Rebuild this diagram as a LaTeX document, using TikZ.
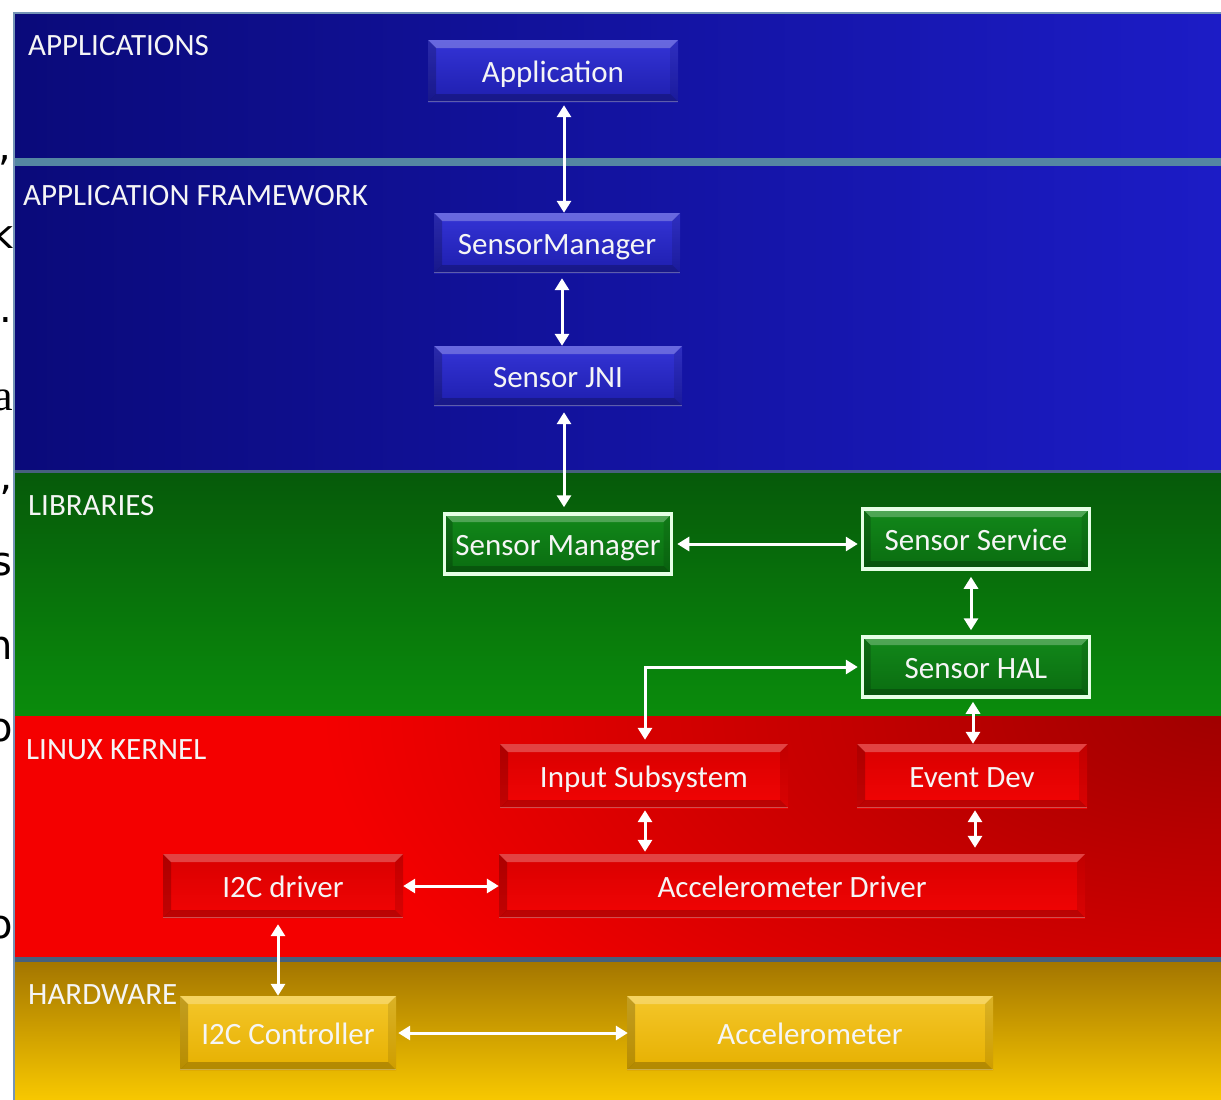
\documentclass[tikz,border=0pt]{standalone}
\usepackage{fontspec}
\setmainfont{Carlito}
\newfontfamily\fragsans{DejaVu Sans}
\newfontfamily\fragserif{Liberation Serif}
\usetikzlibrary{arrows.meta}

% layer colours
\definecolor{blueL}{HTML}{0A0A7A}
\definecolor{blueM}{HTML}{0F0F96}
\definecolor{blueR}{HTML}{1C1CC6}
\definecolor{greenT}{HTML}{065A0A}
\definecolor{greenB}{HTML}{0A8C0C}
\definecolor{redDark}{HTML}{A00000}
\definecolor{redBase}{HTML}{F40000}
\definecolor{goldT}{HTML}{A47600}
\definecolor{goldM}{HTML}{DCA800}
\definecolor{goldB}{HTML}{F8C800}
\definecolor{sepTeal}{HTML}{5486A2}
\definecolor{sepBlue}{HTML}{46607E}
\definecolor{frameEdge}{HTML}{7594B6}
% box colours
\definecolor{bbT}{HTML}{3434D6}
\definecolor{bbB}{HTML}{1E1EAE}
\definecolor{gbT}{HTML}{12881A}
\definecolor{gbB}{HTML}{0A6C10}
\definecolor{rbT}{HTML}{D80000}
\definecolor{rbB}{HTML}{F20404}
\definecolor{ybT}{HTML}{F4C62A}
\definecolor{ybB}{HTML}{E6B000}

\newcommand{\bevw}{8pt}

\tikzset{
  bevel/.style={path picture={
    \path (path picture bounding box.north west) coordinate (bnw)
          (path picture bounding box.north east) coordinate (bne)
          (path picture bounding box.south west) coordinate (bsw)
          (path picture bounding box.south east) coordinate (bse);
    \fill[white,opacity=.26] (bnw) -- (bne) -- ([xshift=-\bevw,yshift=-\bevw]bne)
          -- ([xshift=\bevw,yshift=-\bevw]bnw) -- cycle;
    \fill[black,opacity=.20] (bnw) -- ([xshift=\bevw,yshift=-\bevw]bnw)
          -- ([xshift=\bevw,yshift=\bevw]bsw) -- (bsw) -- cycle;
    \fill[black,opacity=.10] (bne) -- ([xshift=-\bevw,yshift=-\bevw]bne)
          -- ([xshift=-\bevw,yshift=\bevw]bse) -- (bse) -- cycle;
    \fill[black,opacity=.22] (bsw) -- ([xshift=\bevw,yshift=\bevw]bsw)
          -- ([xshift=-\bevw,yshift=\bevw]bse) -- (bse) -- cycle;
    \fill[white,opacity=.30] ([yshift=1.5pt]bsw) rectangle (bse);
  }},
  boxtext/.style={text=white!96!black, inner sep=0pt, text height=24pt, text depth=2pt,
    font=\fontsize{31}{34}\selectfont},
  bluebox/.style={boxtext, bevel, top color=bbT, bottom color=bbB},
  greenbox/.style={boxtext, bevel, top color=gbT, bottom color=gbB,
    draw=white!90!green, line width=3.5pt},
  redbox/.style={boxtext, bevel, top color=rbT, bottom color=rbB},
  goldbox/.style={boxtext, bevel, top color=ybT, bottom color=ybB},
  layerlabel/.style={text=white!96!black, anchor=west, inner sep=0pt,
    font=\fontsize{31}{34}\selectfont},
  conn/.style={draw=white, line width=3pt,
    {Triangle[width=14pt,length=12pt]}-{Triangle[width=14pt,length=12pt]}},
  frag/.style={text=black, inner sep=0pt, font=\fragsans\fontsize{40}{40}\selectfont},
}

\begin{document}
\begin{tikzpicture}[x=1pt,y=-1pt]
\useasboundingbox (0,0) rectangle (1221,1100);
\fill[white] (0,0) rectangle (1221,1100);

% line ends of the surrounding page text, cut by the figure
\node[frag, anchor=center] (f1) at (5,160) {,};
\node[frag, anchor=east] (f2) at (14,233) {k};
\node[frag, anchor=center] (f3) at (6,320) {.};
\node[frag, anchor=east, font=\fragserif\fontsize{44}{44}\selectfont] (f4) at (13,400) {a};
\node[frag, anchor=center] (f5) at (6,500) {’};
\node[frag, anchor=east] (f6) at (13,565) {s};
\node[frag, anchor=east] (f7) at (13,648) {n};
\node[frag, anchor=east] (f8) at (13,731) {o};
\node[frag, anchor=east] (f9) at (13,928) {o};

% layers
\shade[left color=blueL, middle color=blueM, right color=blueR] (13,12) rectangle (1221,159);
\fill[sepTeal] (13,158) rectangle (1221,166);
\shade[left color=blueL, middle color=blueM, right color=blueR] (13,166) rectangle (1221,470);
\fill[sepBlue] (13,470) rectangle (1221,473);
\shade[top color=greenT, bottom color=greenB] (13,473) rectangle (1221,716);
\fill[redBase] (13,716) rectangle (1221,958);
\begin{scope}
  \clip (13,716) rectangle (1221,958);
  \shade[inner color=redDark, outer color=redBase] (1221,716) ellipse [x radius=900pt, y radius=440pt];
\end{scope}
\fill[sepBlue] (13,957) rectangle (1221,962);
\shade[top color=goldT, middle color=goldM, bottom color=goldB] (13,962) rectangle (1221,1100);
\draw[frameEdge, line width=2pt] (14,1100) -- (14,12.5) -- (1221,12.5);

% layer titles
\node[layerlabel] (lapp) at (28,46) {APPLICATIONS};
\node[layerlabel] (lfw) at (23,196) {APPLICATION FRAMEWORK};
\node[layerlabel] (llib) at (28,506) {LIBRARIES};
\node[layerlabel] (lker) at (26,750) {LINUX KERNEL};
\node[layerlabel] (lhw) at (28,995) {HARDWARE};

% components
\node[bluebox, minimum width=250pt, minimum height=62pt] (app) at (553,71) {Application};
\node[bluebox, minimum width=246pt, minimum height=60pt] (sm1) at (557,243) {SensorManager};
\node[bluebox, minimum width=248pt, minimum height=60pt] (jni) at (558,376) {Sensor JNI};

\node[greenbox, minimum width=227pt, minimum height=60pt] (sm2) at (558,544) {Sensor Manager};
\node[greenbox, minimum width=227pt, minimum height=60pt] (ss) at (976,539) {Sensor Service};
\node[greenbox, minimum width=227pt, minimum height=60pt] (hal) at (976,667) {Sensor HAL};

\node[redbox, minimum width=288pt, minimum height=64pt] (inp) at (644,776) {Input Subsystem};
\node[redbox, minimum width=230pt, minimum height=64pt] (evd) at (972,776) {Event Dev};
\node[redbox, minimum width=240pt, minimum height=64pt] (i2cd) at (283,886) {I2C driver};
\node[redbox, minimum width=586pt, minimum height=64pt] (acd) at (792,886) {Accelerometer Driver};

\node[goldbox, minimum width=216pt, minimum height=74pt] (i2cc) at (288,1033) {I2C Controller};
\node[goldbox, minimum width=366pt, minimum height=74pt] (acc) at (810,1033) {Accelerometer};

% connections
\draw[conn] ([xshift=11pt,yshift=-3pt]app.south) -- ([xshift=7pt]sm1.north);
\draw[conn] ([xshift=5pt,yshift=-5pt]sm1.south) -- ([xshift=4pt]jni.north);
\draw[conn] ([xshift=6pt,yshift=-6pt]jni.south) -- ([xshift=6pt,yshift=5pt]sm2.north);
\draw[conn] ([xshift=4pt]sm2.east) -- ([xshift=-3pt]sm2.east -| ss.west);
\draw[conn] ([xshift=-5pt,yshift=-6pt]ss.south) -- ([xshift=-5pt,yshift=5pt]hal.north);
\draw[conn] ([xshift=-3pt]hal.west) -| ([xshift=1pt,yshift=4pt]inp.north);
\draw[conn] ([xshift=-3pt,yshift=-3pt]hal.south) -- ([xshift=1pt]evd.north);
\draw[conn] ([xshift=1pt,yshift=-2pt]inp.south) -- ([xshift=1pt,yshift=2pt]inp.south |- acd.north);
\draw[conn] ([xshift=3pt,yshift=-2pt]evd.south) -- ([xshift=3pt,yshift=6pt]evd.south |- acd.north);
\draw[conn] (i2cd.east) -- (acd.west);
\draw[conn] ([xshift=-5pt,yshift=-6pt]i2cd.south) -- ([xshift=-10pt]i2cc.north);
\draw[conn] ([xshift=2pt]i2cc.east) -- ([xshift=1pt]acc.west);
\end{tikzpicture}
\end{document}
